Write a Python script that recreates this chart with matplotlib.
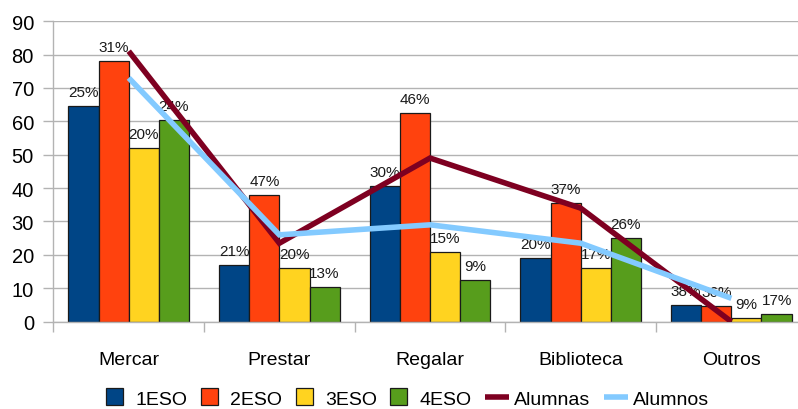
import matplotlib
matplotlib.use("Agg")
import matplotlib.pyplot as plt
import numpy as np
from matplotlib.patches import Rectangle
from matplotlib.legend_handler import HandlerPatch

plt.rcParams['font.family'] = ['Liberation Sans', 'DejaVu Sans']

# values
categories = ["Mercar", "Prestar", "Regalar", "Biblioteca", "Outros"]
eso1 = [64.5, 17, 40.5, 19, 5]
eso2 = [78, 38, 62.5, 35.5, 4.7]
eso3 = [52, 16, 21, 16, 1.2]
eso4 = [60.5, 10.5, 12.5, 25, 2.2]
alumnas = [81, 23.5, 49, 34, 0]
alumnos = [73, 26, 29, 23.5, 7]

pct1 = ["25%", "21%", "30%", "20%", "38%"]
pct2 = ["31%", "47%", "46%", "37%", "36%"]
pct3 = ["20%", "20%", "15%", "17%", "9%"]
pct4 = ["24%", "13%", "9%", "26%", "17%"]

series = [("1ESO", eso1, pct1, "#004586"),
          ("2ESO", eso2, pct2, "#ff420e"),
          ("3ESO", eso3, pct3, "#ffd320"),
          ("4ESO", eso4, pct4, "#579d1c")]

fig = plt.figure(figsize=(7.98, 4.10), dpi=100)
ax = fig.add_axes([0.0669, 0.213, 0.944, 0.733])

x = np.arange(len(categories))
w = 0.2
handles = []
for i, (name, vals, pcts, col) in enumerate(series):
    pos = x + (i - 1.5) * w
    bars = ax.bar(pos, vals, w, color=col, edgecolor="#1a1a1a", linewidth=0.9,
                  zorder=2)
    handles.append(Rectangle((0, 0), 1, 1, facecolor=col, edgecolor="#1a1a1a",
                             linewidth=0.9, label=name))
    for b, p in zip(bars, pcts):
        ax.annotate(p, (b.get_x() + b.get_width() / 2, b.get_height()),
                    xytext=(0, 5), textcoords="offset points",
                    ha="center", va="bottom", fontsize=11, color="#1a1a1a", zorder=3)

l1, = ax.plot(x, alumnas, color="#7e0021", lw=4, label="Alumnas", zorder=5,
              solid_joinstyle="miter", solid_capstyle="butt")
l2, = ax.plot(x, alumnos, color="#83caff", lw=4, label="Alumnos", zorder=5,
              solid_joinstyle="miter", solid_capstyle="butt")

ax.set_xlim(-0.5, 4.5)
ax.set_ylim(0, 90)
ax.set_yticks(range(0, 91, 10))
ax.yaxis.grid(True, color="#b3b3b3", lw=1)
ax.set_axisbelow(True)
for s in ["top", "right"]:
    ax.spines[s].set_visible(False)
for s in ["left", "bottom"]:
    ax.spines[s].set_color("#b3b3b3")
    ax.spines[s].set_linewidth(1)

ax.set_xticks(x)
ax.set_xticklabels(categories)
ax.set_xticks(np.arange(-0.5, 5, 1), minor=True)
ax.tick_params(axis="x", which="major", length=0, pad=21, labelsize=14)
ax.tick_params(axis="x", which="minor", length=7, color="#b3b3b3", width=1)
ax.tick_params(axis="y", length=7, color="#b3b3b3", width=1, pad=7, labelsize=14.5)


def square(legend, orig_handle, xdescent, ydescent, width, height, fontsize):
    s = height * 1.25
    return Rectangle((-xdescent, -ydescent + (height - s) / 2), s, s)


handles += [l1, l2]
labels = [h.get_label() for h in handles]
hm = {h: HandlerPatch(patch_func=square) for h in handles[:4]}
fig.legend(handles, labels, loc="center", bbox_to_anchor=(0.511, 0.025), ncol=6,
           frameon=False, fontsize=14, handlelength=1.2, handletextpad=0.3,
           columnspacing=0.7, handler_map=hm)

fig.savefig("out.png", dpi=100)
